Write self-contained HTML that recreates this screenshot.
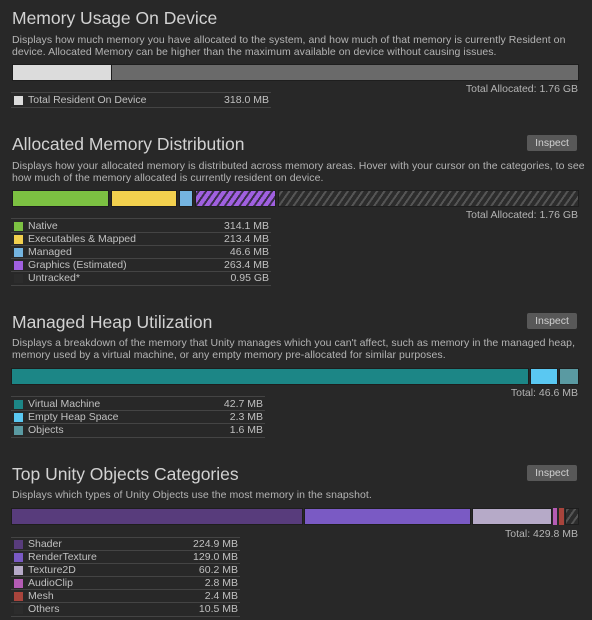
<!DOCTYPE html>
<html><head><meta charset="utf-8"><style>
body{margin:0;width:592px;height:620px;background:#282828;overflow:hidden;font-family:"Liberation Sans",sans-serif;color:#c4c4c4;position:relative}
.a{position:absolute;white-space:nowrap}
.t{font-size:17.5px;color:#d2d2d2;left:12px}
.d{font-size:10.5px;letter-spacing:0.06px;color:#b4b4b4;left:12px;line-height:12px}
.btn{position:absolute;left:527px;width:50px;height:16px;background:#585858;border-radius:2px;font-size:10.5px;color:#d0d0d0;text-align:center;line-height:16px}
.bar{position:absolute;height:17px;box-sizing:border-box;border:1px solid #1e1e1e}
.tot{position:absolute;right:14px;font-size:10.5px;color:#b4b4b4}
.hl{position:absolute;left:11px;height:1px;background:#444}
.row{position:absolute;left:11px;height:13px;font-size:10.5px;line-height:13px;color:#c0c0c0}
.row .s{position:absolute;left:3px;top:2px;width:9px;height:9px}
.row .n{position:absolute;left:17px}
.row .v{position:absolute;right:2px}
.hatch{background:repeating-linear-gradient(-55deg,#2c2c2c 0 4px,#555 4px 6px)}
.ph{background:repeating-linear-gradient(-55deg,#a060e0 0 4px,#3a2e4a 4px 6px)}
</style></head><body>

<div class="a t" style="top:8px">Memory Usage On Device</div>
<div class="a d" style="top:34px">Displays how much memory you have allocated to the system, and how much of that memory is currently Resident on<br>device. Allocated Memory can be higher than the maximum available on device without causing issues.</div>
<div class="bar" style="left:12px;top:64px;width:567px;background:#6a6a6a"></div>
<div class="bar" style="left:12px;top:64px;width:100px;background:#dcdcdc"></div>
<div class="tot" style="top:83px">Total Allocated: 1.76 GB</div>
<div class="hl" style="top:92px;width:260px"></div>
<div class="row" style="top:94px;width:260px"><span class="s" style="background:#dcdcdc"></span><span class="n">Total Resident On Device</span><span class="v">318.0 MB</span></div>
<div class="hl" style="top:107px;width:260px"></div>

<div class="a t" style="top:134px">Allocated Memory Distribution</div>
<div class="btn" style="top:135px">Inspect</div>
<div class="a d" style="top:160px">Displays how your allocated memory is distributed across memory areas. Hover with your cursor on the categories, to see<br>how much of the memory allocated is currently resident on device.</div>
<div class="bar" style="left:12px;top:190px;width:97px;background:#7cc142"></div>
<div class="bar" style="left:111px;top:190px;width:66px;background:#f2d04e"></div>
<div class="bar" style="left:179px;top:190px;width:14px;background:#74b4e0"></div>
<div class="bar ph" style="left:195px;top:190px;width:81px"></div>
<div class="bar hatch" style="left:278px;top:190px;width:301px"></div>
<div class="tot" style="top:209px">Total Allocated: 1.76 GB</div>
<div class="hl" style="top:218px;width:260px"></div>
<div class="row" style="top:220px;width:260px"><span class="s" style="background:#7cc142"></span><span class="n">Native</span><span class="v">314.1 MB</span></div>
<div class="hl" style="top:232px;width:260px"></div>
<div class="row" style="top:233px;width:260px"><span class="s" style="background:#f2d04e"></span><span class="n">Executables &amp; Mapped</span><span class="v">213.4 MB</span></div>
<div class="hl" style="top:245px;width:260px"></div>
<div class="row" style="top:246px;width:260px"><span class="s" style="background:#74b4e0"></span><span class="n">Managed</span><span class="v">46.6 MB</span></div>
<div class="hl" style="top:258px;width:260px"></div>
<div class="row" style="top:259px;width:260px"><span class="s" style="background:#a060e0"></span><span class="n">Graphics (Estimated)</span><span class="v">263.4 MB</span></div>
<div class="hl" style="top:271px;width:260px"></div>
<div class="row" style="top:272px;width:260px"><span class="s" style="background:#2c2c2c"></span><span class="n">Untracked*</span><span class="v">0.95 GB</span></div>
<div class="hl" style="top:285px;width:260px"></div>

<div class="a t" style="top:312px">Managed Heap Utilization</div>
<div class="btn" style="top:313px">Inspect</div>
<div class="a d" style="top:337px">Displays a breakdown of the memory that Unity manages which you can't affect, such as memory in the managed heap,<br>memory used by a virtual machine, or any empty memory pre-allocated for similar purposes.</div>
<div class="bar" style="left:11px;top:368px;width:518px;background:#1c8686"></div>
<div class="bar" style="left:530px;top:368px;width:28px;background:#5ac8f2"></div>
<div class="bar" style="left:559px;top:368px;width:20px;background:#5a9aa2"></div>
<div class="tot" style="top:387px">Total: 46.6 MB</div>
<div class="hl" style="top:396px;width:254px"></div>
<div class="row" style="top:398px;width:254px"><span class="s" style="background:#1c8686"></span><span class="n">Virtual Machine</span><span class="v">42.7 MB</span></div>
<div class="hl" style="top:410px;width:254px"></div>
<div class="row" style="top:411px;width:254px"><span class="s" style="background:#5ac8f2"></span><span class="n">Empty Heap Space</span><span class="v">2.3 MB</span></div>
<div class="hl" style="top:423px;width:254px"></div>
<div class="row" style="top:424px;width:254px"><span class="s" style="background:#5a9aa2"></span><span class="n">Objects</span><span class="v">1.6 MB</span></div>
<div class="hl" style="top:437px;width:254px"></div>

<div class="a t" style="top:464px">Top Unity Objects Categories</div>
<div class="btn" style="top:465px">Inspect</div>
<div class="a d" style="top:489px">Displays which types of Unity Objects use the most memory in the snapshot.</div>
<div class="bar" style="left:11px;top:508px;width:292px;background:#583c7c"></div>
<div class="bar" style="left:304px;top:508px;width:167px;background:#7a5ac4"></div>
<div class="bar" style="left:472px;top:508px;width:80px;background:#b6aac8"></div>
<div class="bar" style="left:553px;top:508px;width:4px;background:#b45cb4;border:none"></div>
<div class="bar" style="left:559px;top:508px;width:5px;background:#a8443c;border:none"></div>
<div class="bar hatch" style="left:565px;top:508px;width:14px"></div>
<div class="tot" style="top:528px">Total: 429.8 MB</div>
<div class="hl" style="top:537px;width:229px"></div>
<div class="row" style="top:538px;width:229px"><span class="s" style="background:#583c7c"></span><span class="n">Shader</span><span class="v">224.9 MB</span></div>
<div class="hl" style="top:550px;width:229px"></div>
<div class="row" style="top:551px;width:229px"><span class="s" style="background:#7a5ac4"></span><span class="n">RenderTexture</span><span class="v">129.0 MB</span></div>
<div class="hl" style="top:563px;width:229px"></div>
<div class="row" style="top:564px;width:229px"><span class="s" style="background:#b6aac8"></span><span class="n">Texture2D</span><span class="v">60.2 MB</span></div>
<div class="hl" style="top:576px;width:229px"></div>
<div class="row" style="top:577px;width:229px"><span class="s" style="background:#b45cb4"></span><span class="n">AudioClip</span><span class="v">2.8 MB</span></div>
<div class="hl" style="top:589px;width:229px"></div>
<div class="row" style="top:590px;width:229px"><span class="s" style="background:#a8443c"></span><span class="n">Mesh</span><span class="v">2.4 MB</span></div>
<div class="hl" style="top:602px;width:229px"></div>
<div class="row" style="top:603px;width:229px"><span class="s" style="background:#2c2c2c"></span><span class="n">Others</span><span class="v">10.5 MB</span></div>
<div class="hl" style="top:616px;width:229px"></div>
</body></html>
